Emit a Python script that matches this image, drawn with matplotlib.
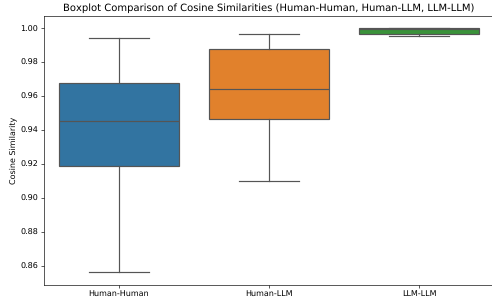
import matplotlib
matplotlib.use("Agg")
import matplotlib.pyplot as plt

plt.rcParams["text.hinting"] = "no_hinting"
plt.rcParams["text.hinting_factor"] = 1

categories = ["Human-Human", "Human-LLM", "LLM-LLM"]
whisker_low = [0.856, 0.9101, 0.9953]
q1 = [0.9188, 0.9467, 0.9965]
median = [0.9455, 0.9644, 0.9999]
q3 = [0.9679, 0.9880, 1.0000]
whisker_high = [0.9943, 0.9966, 1.0000]
colors = ["#3274a1", "#e1812c", "#3a923a"]

stats = []
for i, c in enumerate(categories):
    stats.append(dict(label=c, whislo=whisker_low[i], q1=q1[i], med=median[i],
                      q3=q3[i], whishi=whisker_high[i], fliers=[]))

DPI = 57.5
W, H = 492, 302
fig, ax = plt.subplots(figsize=(W / DPI, H / DPI), dpi=DPI)
fig.subplots_adjust(left=43.7 / W, right=494.3 / W, top=1 - 16.0 / H, bottom=1 - 284.7 / H)
line_c = "#555555"
lw = 1.5
bp = ax.bxp(stats, positions=range(len(categories)), widths=0.8, patch_artist=True,
            showfliers=False,
            boxprops=dict(edgecolor=line_c, linewidth=lw),
            medianprops=dict(color=line_c, linewidth=lw),
            whiskerprops=dict(color=line_c, linewidth=lw),
            capprops=dict(color=line_c, linewidth=lw),
            capwidths=0.4)
for patch, col in zip(bp["boxes"], colors):
    patch.set_facecolor(col)
ax.set_xlim(-0.5, 2.5)
ax.set_ylim(0.8488, 1.0073)
ax.set_ylabel("Cosine Similarity")
ax.set_title("Boxplot Comparison of Cosine Similarities (Human-Human, Human-LLM, LLM-LLM)")
fig.savefig("out.png", dpi=DPI)
